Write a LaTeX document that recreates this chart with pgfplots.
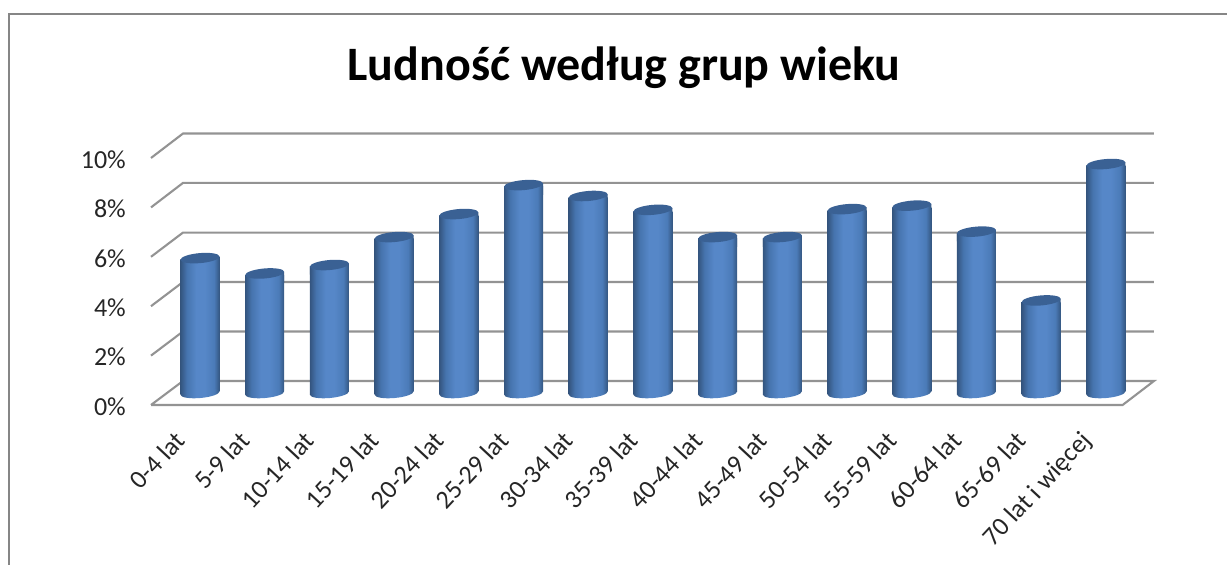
\documentclass[border=0pt]{standalone}
\usepackage{pgfplots}
\pgfplotsset{compat=1.18}
\usepackage{fontspec}
\setmainfont{Carlito}
\definecolor{gridc}{HTML}{939393}
\definecolor{framec}{HTML}{868686}
\definecolor{txtc}{HTML}{262626}
\definecolor{capc}{HTML}{3A6194}
\definecolor{cyla}{HTML}{34557F}
\definecolor{cylb}{HTML}{4674AE}
\definecolor{cylc}{HTML}{5687C8}
\definecolor{cyld}{HTML}{4B7BB8}
\definecolor{cyle}{HTML}{345680}
\pgfdeclarehorizontalshading{cyl}{100bp}{
  color(0bp)=(cyla);
  color(25bp)=(cyla);
  color(33bp)=(cylb);
  color(45bp)=(cylc);
  color(56bp)=(cylc);
  color(68bp)=(cyld);
  color(75bp)=(cyle);
  color(100bp)=(cyle)}
\pgfdeclareplotmark{captop}{%
  \pgfpathmoveto{\pgfqpoint{-19.5pt}{-8pt}}%
  \pgfpathlineto{\pgfqpoint{19.5pt}{-8pt}}%
  \pgfpathlineto{\pgfqpoint{19.5pt}{3.4pt}}%
  \pgfpathlineto{\pgfqpoint{-19.5pt}{0pt}}%
  \pgfpathclose
  \pgfshadepath{cyl}{0}%
  \pgfusepath{}%
  \pgfsetfillcolor{capc}%
  \pgfpathellipse{\pgfqpoint{0pt}{1.7pt}}{\pgfqpoint{19.5pt}{1.7pt}}{\pgfqpoint{-0.4pt}{5pt}}%
  \pgfusepathqfill}
\pgfdeclareplotmark{capbase}{%
  \pgfsetfillcolor{white}%
  \pgfpathmoveto{\pgfqpoint{-20.5pt}{-1pt}}%
  \pgfpathlineto{\pgfqpoint{20.5pt}{-1pt}}%
  \pgfpathlineto{\pgfqpoint{20.5pt}{3.4pt}}%
  \pgfpathlineto{\pgfqpoint{-20.5pt}{0pt}}%
  \pgfpathclose
  \pgfusepathqfill
  \pgfpathellipse{\pgfqpoint{0pt}{1.7pt}}{\pgfqpoint{19.5pt}{1.7pt}}{\pgfqpoint{-0.4pt}{5pt}}%
  \pgfshadepath{cyl}{0}%
  \pgfusepath{}}
\pgfplotsset{cylbar/.style={ybar,bar width=39pt,bar shift=0pt,draw=none,shading=cyl}}
\begin{document}
\begin{tikzpicture}[x=1pt,y=1pt]
\path[use as bounding box] (0,0) rectangle (1227,565);
\draw[framec,line width=2.4pt] (9,-5) -- (9,551) -- (1232,551);
\node[font=\fontsize{48}{56}\selectfont\bfseries,text=black,anchor=center] at (624,497.5) {Ludność według grup wieku};
\begin{axis}[
  at={(151pt,160pt)},anchor=south west,
  scale only axis,width=971.6pt,height=247pt,
  xmin=-0.757,xmax=14.258,ymin=0,ymax=10,
  clip=false,
  axis line style={draw=none},
  major tick length=0pt,
  xtick={0,...,14},
  xticklabels={0-4 lat,5-9 lat,10-14 lat,15-19 lat,20-24 lat,25-29 lat,30-34 lat,35-39 lat,40-44 lat,45-49 lat,50-54 lat,55-59 lat,60-64 lat,65-69 lat,70 lat i więcej},
  ytick={0,2,4,6,8,10},
  yticklabel={\pgfmathprintnumber{\tick}\%},
  /pgf/number format/assume math mode=true,
  tick label style={font=\fontsize{26}{30}\selectfont,text=txtc},
  y tick label style={anchor=east,inner sep=0pt,xshift=-25pt,yshift=-1.5pt},
  x tick label style={rotate=47,anchor=north east,inner sep=0pt,xshift=-36pt,yshift=3pt},
]
\addplot[gridc,line width=2.1pt] coordinates {(-0.757,0) (-0.263,0.972) (14.743,0.972) (14.258,0) (-0.757,0)};
\addplot[gridc,line width=2.1pt] coordinates {(-0.757,2) (-0.263,2.976) (14.743,2.976)};
\addplot[gridc,line width=2.1pt] coordinates {(-0.757,4) (-0.263,4.98) (14.743,4.98)};
\addplot[gridc,line width=2.1pt] coordinates {(-0.757,6) (-0.263,6.98) (14.743,6.98)};
\addplot[gridc,line width=2.1pt] coordinates {(-0.757,8) (-0.263,8.99) (14.743,8.99)};
\addplot[gridc,line width=2.1pt] coordinates {(-0.757,10) (-0.263,10.99) (14.743,10.99)};
\end{axis}
\begin{axis}[
  at={(151pt,160pt)},anchor=south west,
  scale only axis,width=971.6pt,height=247pt,
  xmin=-0.757,xmax=14.258,ymin=-0.416,ymax=9.564,
  clip=false,
  hide axis,
]
\addplot[cylbar] coordinates {(0,5.45)};
\addplot[cylbar] coordinates {(1,4.83)};
\addplot[cylbar] coordinates {(2,5.17)};
\addplot[cylbar] coordinates {(3,6.3)};
\addplot[cylbar] coordinates {(4,7.23)};
\addplot[cylbar] coordinates {(5,8.4)};
\addplot[cylbar] coordinates {(6,7.96)};
\addplot[cylbar] coordinates {(7,7.4)};
\addplot[cylbar] coordinates {(8,6.3)};
\addplot[cylbar] coordinates {(9,6.3)};
\addplot[cylbar] coordinates {(10,7.43)};
\addplot[cylbar] coordinates {(11,7.57)};
\addplot[cylbar] coordinates {(12,6.52)};
\addplot[cylbar] coordinates {(13,3.74)};
\addplot[cylbar] coordinates {(14,9.25)};
\addplot[only marks,mark=capbase] coordinates {
(0,0)(1,0)(2,0)(3,0)(4,0)(5,0)(6,0)(7,0)(8,0)(9,0)(10,0)(11,0)(12,0)(13,0)(14,0)};
\addplot[only marks,mark=captop] coordinates {
(0,5.45)(1,4.83)(2,5.17)(3,6.3)(4,7.23)(5,8.4)(6,7.96)(7,7.4)(8,6.3)(9,6.3)(10,7.43)(11,7.57)(12,6.52)(13,3.74)(14,9.25)};
\end{axis}
\end{tikzpicture}
\end{document}
